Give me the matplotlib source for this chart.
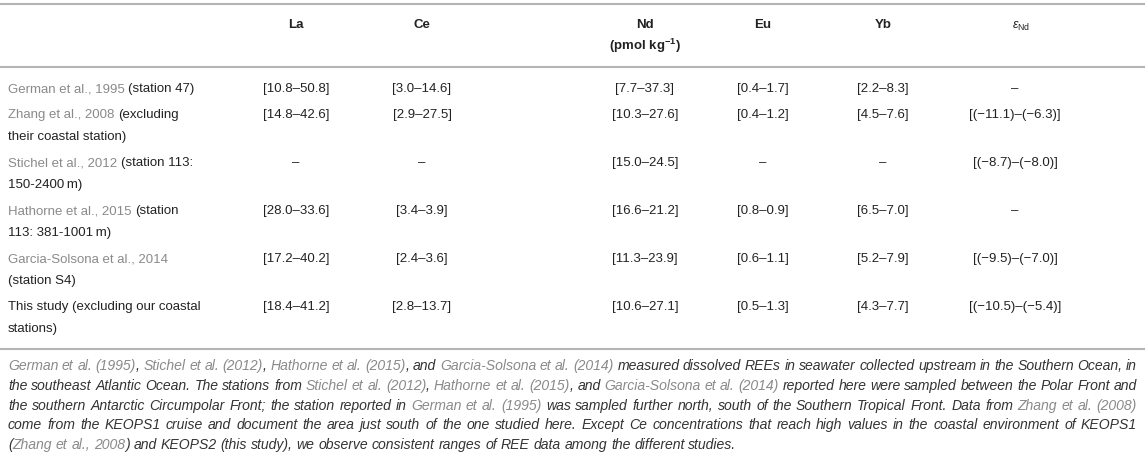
import re
import matplotlib.pyplot as plt

# ---- table data -------------------------------------------------------
elements = ["La", "Ce", "Nd", "Eu", "Yb"]
unit_label = "(pmol kg$^{\\mathbf{-1}}$)"

study_refs = ["German et al., 1995", "Zhang et al., 2008", "Stichel et al., 2012",
              "Hathorne et al., 2015", "Garcia-Solsona et al., 2014", ""]
study_notes = ["(station 47)", "(excluding\ntheir coastal station)",
               "(station 113:\n150-2400\u2009m)", "(station\n113: 381-1001\u2009m)",
               "\n(station S4)", "This study (excluding our coastal\nstations)"]

# concentration ranges (pmol/kg), None = not reported
la = [(10.8, 50.8), (14.8, 42.6), None, (28.0, 33.6), (17.2, 40.2), (18.4, 41.2)]
ce = [(3.0, 14.6), (2.9, 27.5), None, (3.4, 3.9), (2.4, 3.6), (2.8, 13.7)]
nd = [(7.7, 37.3), (10.3, 27.6), (15.0, 24.5), (16.6, 21.2), (11.3, 23.9), (10.6, 27.1)]
eu = [(0.4, 1.7), (0.4, 1.2), None, (0.8, 0.9), (0.6, 1.1), (0.5, 1.3)]
yb = [(2.2, 8.3), (4.5, 7.6), None, (6.5, 7.0), (5.2, 7.9), (4.3, 7.7)]
eps_nd = [None, (-11.1, -6.3), (-8.7, -8.0), None, (-9.5, -7.0), (-10.5, -5.4)]

# caption, {...} = reference (grey)
caption = [
    "{German et al. (1995)}, {Stichel et al. (2012)}, {Hathorne et al. (2015)}, and {Garcia-Solsona et al. (2014)} measured dissolved REEs in seawater collected upstream in the Southern Ocean, in",
    "the southeast Atlantic Ocean. The stations from {Stichel et al. (2012)}, {Hathorne et al. (2015)}, and {Garcia-Solsona et al. (2014)} reported here were sampled between the Polar Front and",
    "the southern Antarctic Circumpolar Front; the station reported in {German et al. (1995)} was sampled further north, south of the Southern Tropical Front. Data from {Zhang et al. (2008)}",
    "come from the KEOPS1 cruise and document the area just south of the one studied here. Except Ce concentrations that reach high values in the coastal environment of KEOPS1",
    "({Zhang et al., 2008}) and KEOPS2 (this study), we observe consistent ranges of REE data among the different studies.",
]

# ---- style ------------------------------------------------------------
plt.rcParams['font.family'] = ['Liberation Sans', 'DejaVu Sans']
plt.rcParams['mathtext.fontset'] = 'custom'
plt.rcParams['mathtext.rm'] = 'Liberation Sans'
plt.rcParams['mathtext.it'] = 'Liberation Sans:italic'
plt.rcParams['mathtext.bf'] = 'Liberation Sans:bold'

TXT = '#222222'
CAP_TXT = '#333333'
REF = '#8a8a8a'
RULE = '#b4b4b4'
FS = 9.5
CAP_FS = 10.1

W, H = 1145, 457
fig = plt.figure(figsize=(W / 100, H / 100), dpi=100)
ax = fig.add_axes([0, 0, 1, 1])
ax.set_xlim(0, W)
ax.set_ylim(H, 0)
ax.axis('off')
renderer = fig.canvas.get_renderer()


def text_width(s, **kw):
    t = ax.text(0, 0, s + "|", **kw)
    w1 = t.get_window_extent(renderer).width
    t.set_text("|")
    w2 = t.get_window_extent(renderer).width
    t.remove()
    return w1 - w2


def fmt(r, neg=False):
    if r is None:
        return "\u2013"
    if neg:
        return "[(%s)\u2013(%s)]" % (("%.1f" % r[0]).replace("-", "\u2212"),
                                     ("%.1f" % r[1]).replace("-", "\u2212"))
    return "[%.1f\u2013%.1f]" % r


# rules
for y in (4, 66.5, 348.5):
    ax.plot([0, W], [y, y], color=RULE, lw=1.5, solid_capstyle='butt')

# header
col_x = [296, 422, 645, 763, 883, 1015]
for x, name in zip(col_x, elements):
    ax.text(x, 28.5, name, ha='center', va='baseline', fontsize=FS,
            fontweight='bold', color=TXT)
ax.text(col_x[2], 50, unit_label, ha='center', va='baseline', fontsize=FS,
        fontweight='bold', color=TXT)
ax.text(col_x[5] + 6, 28.5, "$\\varepsilon_{\\mathrm{Nd}}$", ha='center',
        va='baseline', fontsize=9, color=TXT)

# body
LINE = 22
PAD = 4
x0 = 8
y = 92
columns = [la, ce, nd, eu, yb]
for i in range(len(study_refs)):
    note_lines = study_notes[i].split("\n")
    ref = study_refs[i]
    if ref:
        ax.text(x0, y, ref, ha='left', va='baseline', fontsize=FS, color=REF)
        if note_lines[0]:
            xn = x0 + text_width(ref + " ", fontsize=FS)
            ax.text(xn, y, note_lines[0], ha='left', va='baseline', fontsize=FS, color=TXT)
    else:
        ax.text(x0, y, note_lines[0], ha='left', va='baseline', fontsize=FS, color=TXT)
    for k, extra in enumerate(note_lines[1:], start=1):
        ax.text(x0, y + k * LINE, extra, ha='left', va='baseline', fontsize=FS, color=TXT)

    for x, col in zip(col_x, columns):
        ax.text(x, y, fmt(col[i]), ha='center', va='baseline', fontsize=FS, color=TXT)
    ax.text(col_x[5], y, fmt(eps_nd[i], neg=True), ha='center', va='baseline',
            fontsize=FS, color=TXT)

    y += len(note_lines) * LINE + PAD

# caption, justified between left and right margins
cap_left, cap_right = 8, 1137
cap_y = 370
cap_step = 19.8
cap_kw = dict(fontsize=CAP_FS, style='italic')
for li, line in enumerate(caption):
    pieces = [(p, REF if j % 2 else CAP_TXT) for j, p in enumerate(re.split(r"[{}]", line))]
    words = [[]]
    for s, c in pieces:
        parts = s.split(" ")
        for n, part in enumerate(parts):
            if n > 0:
                words.append([])
            if part:
                words[-1].append((part, c))
    words = [w for w in words if w]
    widths = [sum(text_width(s, **cap_kw) for s, c in w) for w in words]
    if li < len(caption) - 1:
        gap = (cap_right - cap_left - sum(widths)) / (len(words) - 1)
    else:
        gap = text_width(" ", **cap_kw)
    x = cap_left
    yy = cap_y + li * cap_step
    for w, wd in zip(words, widths):
        xx = x
        for s, c in w:
            ax.text(xx, yy, s, ha='left', va='baseline', color=c, **cap_kw)
            xx += text_width(s, **cap_kw)
        x += wd + gap

fig.savefig("out.png", dpi=100)
